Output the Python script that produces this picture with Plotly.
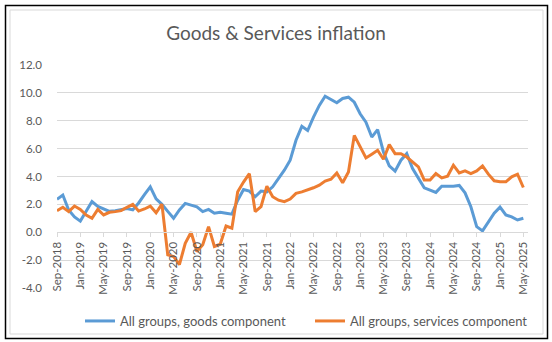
import pandas as pd
import plotly.graph_objects as go

# ---- data ----
months = [d.strftime("%b-%Y") for d in pd.date_range("2018-09-01", "2025-05-01", freq="MS")]

goods = [2.36, 2.67, 1.6, 1.1, 0.8, 1.5, 2.2, 1.85, 1.7, 1.5,
         1.55, 1.65, 1.7, 1.6, 2.1, 2.7, 3.26, 2.4, 2.0, 1.5,
         1.0, 1.6, 2.07, 1.95, 1.83, 1.48, 1.64, 1.36, 1.43, 1.36,
         1.3, 2.3, 3.07, 2.95, 2.55, 2.95, 2.9, 3.26, 3.86, 4.45,
         5.17, 6.6, 7.6, 7.3, 8.26, 9.1, 9.76, 9.5, 9.29, 9.6,
         9.69, 9.33, 8.5, 7.9, 6.83, 7.36, 5.76, 4.76, 4.38, 5.17,
         5.64, 4.57, 3.86, 3.19, 3.02, 2.86, 3.3, 3.3, 3.3, 3.36,
         2.83, 1.83, 0.4, 0.1, 0.76, 1.36, 1.8, 1.24, 1.1, 0.88,
         1.0]

services = [1.55, 1.79, 1.48, 1.88, 1.64, 1.24, 1.0, 1.64, 1.24, 1.43,
            1.48, 1.55, 1.79, 2.0, 1.52, 1.67, 1.88, 1.4, 2.02, -1.62,
            -1.74, -2.33, -0.79, 0.0, -1.38, -0.9, 0.4, -1.02, -0.86, 0.45,
            0.29, 2.9, 3.6, 4.2, 1.48, 1.83, 3.3, 2.55, 2.3, 2.19,
            2.38, 2.79, 2.9, 3.02, 3.19, 3.38, 3.67, 3.81, 4.26, 3.55,
            4.33, 6.95, 6.12, 5.33, 5.6, 5.88, 5.24, 6.29, 5.64, 5.64,
            5.4, 5.05, 4.69, 3.74, 3.74, 4.21, 3.9, 4.02, 4.81, 4.26,
            4.4, 4.21, 4.4, 4.76, 4.17, 3.69, 3.62, 3.62, 3.98, 4.17,
            3.21]

ytick_vals = [12, 10, 8, 6, 4, 2, 0, -2, -4]
ytick_text = ["12.0", "10.0", "8.0", "6.0", "4.0", "2.0", "0.0", "-2.0", "-4.0"]

x_tick_labels = months[::4]

# ---- layout geometry (pixels) ----
W, H = 552, 342
L, R, T, B = 57, 24, 65, 54
pw, ph = W - L - R, H - T - B


def px(x):
    return (x - L) / pw


def py(y):
    return (H - B - y) / ph


FONT = "Lato"
GREY = "#595959"

fig = go.Figure()
fig.add_trace(go.Scatter(x=months, y=goods, mode="lines",
                         name="All groups, goods component",
                         line=dict(color="#5B9BD5", width=3)))
fig.add_trace(go.Scatter(x=months, y=services, mode="lines",
                         name="All groups, services component",
                         line=dict(color="#ED7D31", width=3)))

fig.update_layout(
    width=W, height=H,
    margin=dict(l=L, r=R, t=T, b=B, autoexpand=False),
    paper_bgcolor="white", plot_bgcolor="white",
    font=dict(family=FONT, color=GREY),
    title=dict(text="Goods & Services inflation", x=0.5, xref="container",
               xanchor="center", y=1 - 33 / H, yanchor="middle",
               font=dict(size=19, color=GREY, family=FONT)),
    legend=dict(orientation="h", xref="container", x=310 / W, y=py(321),
                xanchor="center", yanchor="middle",
                font=dict(size=13, color=GREY, family=FONT),
                itemwidth=30, entrywidth=185, entrywidthmode="pixels",
                tracegroupgap=0, bgcolor="rgba(0,0,0,0)"),
    showlegend=True,
)

fig.update_xaxes(
    type="category", range=[0, 80.8],
    tickmode="array", tickvals=x_tick_labels, ticktext=x_tick_labels,
    tickangle=-90, tickfont=dict(size=11.5, color=GREY, family=FONT),
    anchor="free", position=0.25,
    showline=True, linecolor="#d9d9d9", linewidth=1,
    ticks="outside", ticklen=4, tickcolor="#d9d9d9",
    showgrid=False, zeroline=False,
)
fig.update_yaxes(
    range=[-4, 12], tickmode="array", tickvals=ytick_vals, ticktext=ytick_text,
    tickfont=dict(size=11.5, color=GREY, family=FONT),
    showgrid=True, gridcolor="#d9d9d9", gridwidth=1,
    zeroline=False, showline=False, ticks="", ticklabelstandoff=14,
)

# chart borders
fig.add_shape(type="rect", xref="paper", yref="paper",
              x0=px(10), x1=px(543), y0=py(334), y1=py(10),
              line=dict(color="#d9d9d9", width=1), layer="below")
fig.add_shape(type="rect", xref="paper", yref="paper",
              x0=px(5.5), x1=px(547.5), y0=py(338.5), y1=py(5.5),
              line=dict(color="black", width=1.5), layer="below")

fig.write_html("out.html")
